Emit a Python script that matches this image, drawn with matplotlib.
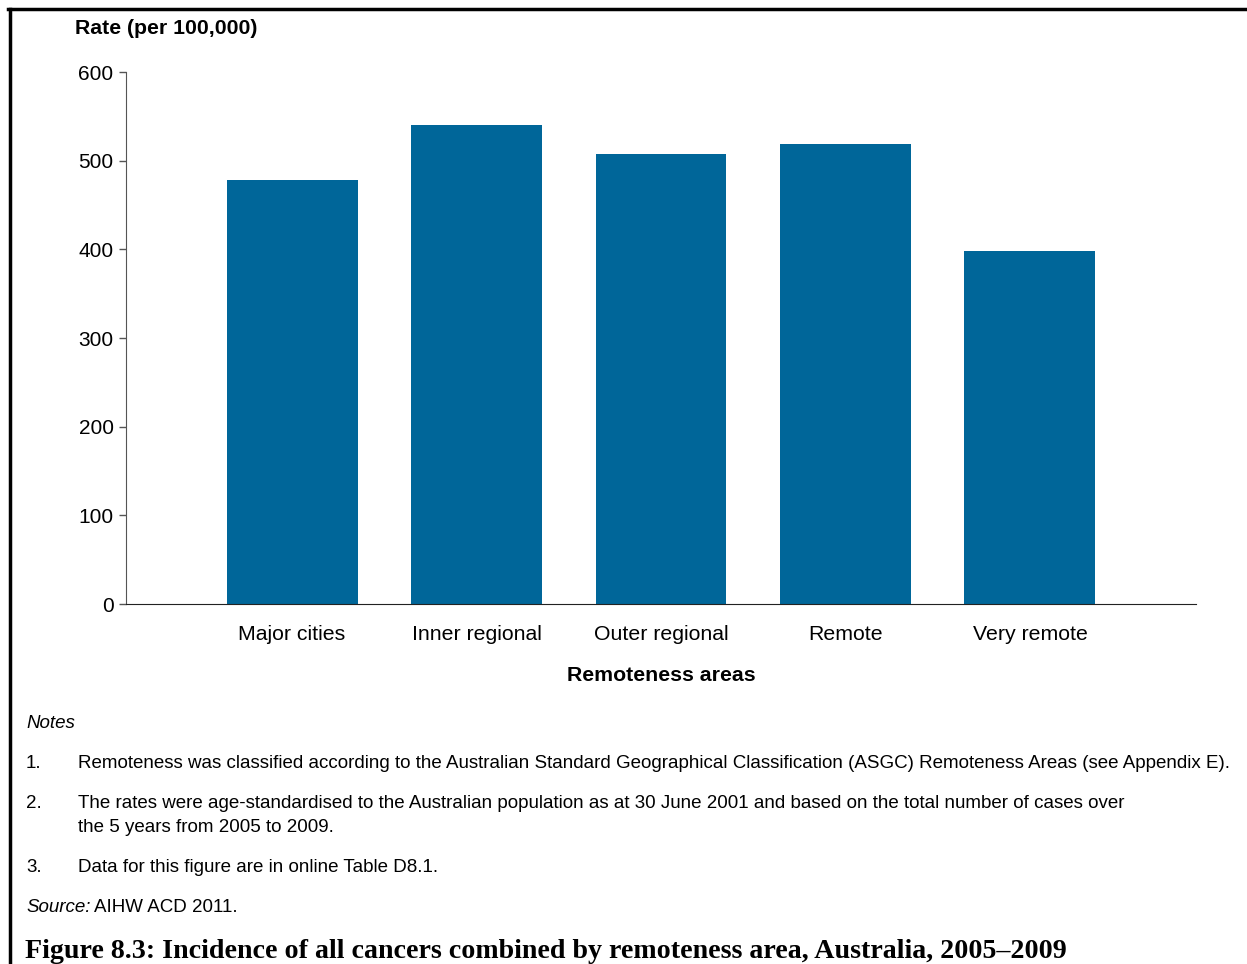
import matplotlib.pyplot as plt
from matplotlib.lines import Line2D
import numpy as np

# Data
areas = ["Major cities", "Inner regional", "Outer regional", "Remote", "Very remote"]
rates = [478, 540, 508, 519, 398]
y_ticks = [0, 100, 200, 300, 400, 500, 600]

notes = [
    ("1.", ["Remoteness was classified according to the Australian Standard Geographical Classification (ASGC) Remoteness Areas (see Appendix E)."]),
    ("2.", ["The rates were age-standardised to the Australian population as at 30 June 2001 and based on the total number of cases over",
            "the 5 years from 2005 to 2009."]),
    ("3.", ["Data for this figure are in online Table D8.1."]),
]
caption = "Figure 8.3: Incidence of all cancers combined by remoteness area, Australia, 2005\u20132009"

plt.rcParams['font.family'] = ['Liberation Sans', 'DejaVu Sans']

W, H = 1247, 964
fig = plt.figure(figsize=(W / 100, H / 100), dpi=100)

def fx(px):
    return px / W

def fy(py):
    return 1 - py / H

ax = fig.add_axes([fx(126), fy(604), fx(1196) - fx(126), fy(72) - fy(604)])
x = np.arange(len(areas))
ax.bar(x, rates, width=0.71, color="#006699")
ax.set_xlim(-0.9, len(areas) - 1 + 0.9)
ax.set_ylim(0, 600)
ax.set_yticks(y_ticks)
ax.set_xticks(x)
ax.set_xticklabels(areas, fontsize=15.3)
ax.tick_params(axis='y', labelsize=15, length=5, width=1, color="#555555", pad=4)
ax.tick_params(axis='x', length=0, pad=15)
for s in ["top", "right"]:
    ax.spines[s].set_visible(False)
ax.spines["left"].set_color("#555555")
ax.spines["bottom"].set_color("#222222")
ax.set_xlabel("Remoteness areas", fontsize=15.3, fontweight="bold", labelpad=16)

fig.text(fx(75), fy(29), "Rate (per 100,000)", fontsize=15.3, fontweight="bold", va="center", ha="left")

# frame lines around the figure (top and left only)
fig.add_artist(Line2D([fx(8), 1], [fy(9), fy(9)], color="black", lw=2.5))
fig.add_artist(Line2D([fx(9.5), fx(9.5)], [fy(9), 0], color="black", lw=2.5))

note_fs = 13.5
fig.text(fx(26), fy(723), "Notes", fontsize=note_fs, style="italic", va="center")
note_y = [764, 804, 868]
for (num, lines), yy in zip(notes, note_y):
    fig.text(fx(26), fy(yy), num, fontsize=note_fs, va="center")
    for i, line in enumerate(lines):
        fig.text(fx(78), fy(yy + 24 * i), line, fontsize=note_fs, va="center")

fig.text(fx(26), fy(908), "Source:", fontsize=note_fs, style="italic", va="center")
fig.text(fx(94), fy(908), "AIHW ACD 2011.", fontsize=note_fs, va="center")

fig.text(fx(25), fy(951), caption, fontsize=20.2, fontweight="bold", va="center",
         family=["Liberation Serif", "DejaVu Serif"])

fig.savefig("out.png", dpi=100, facecolor="white")
